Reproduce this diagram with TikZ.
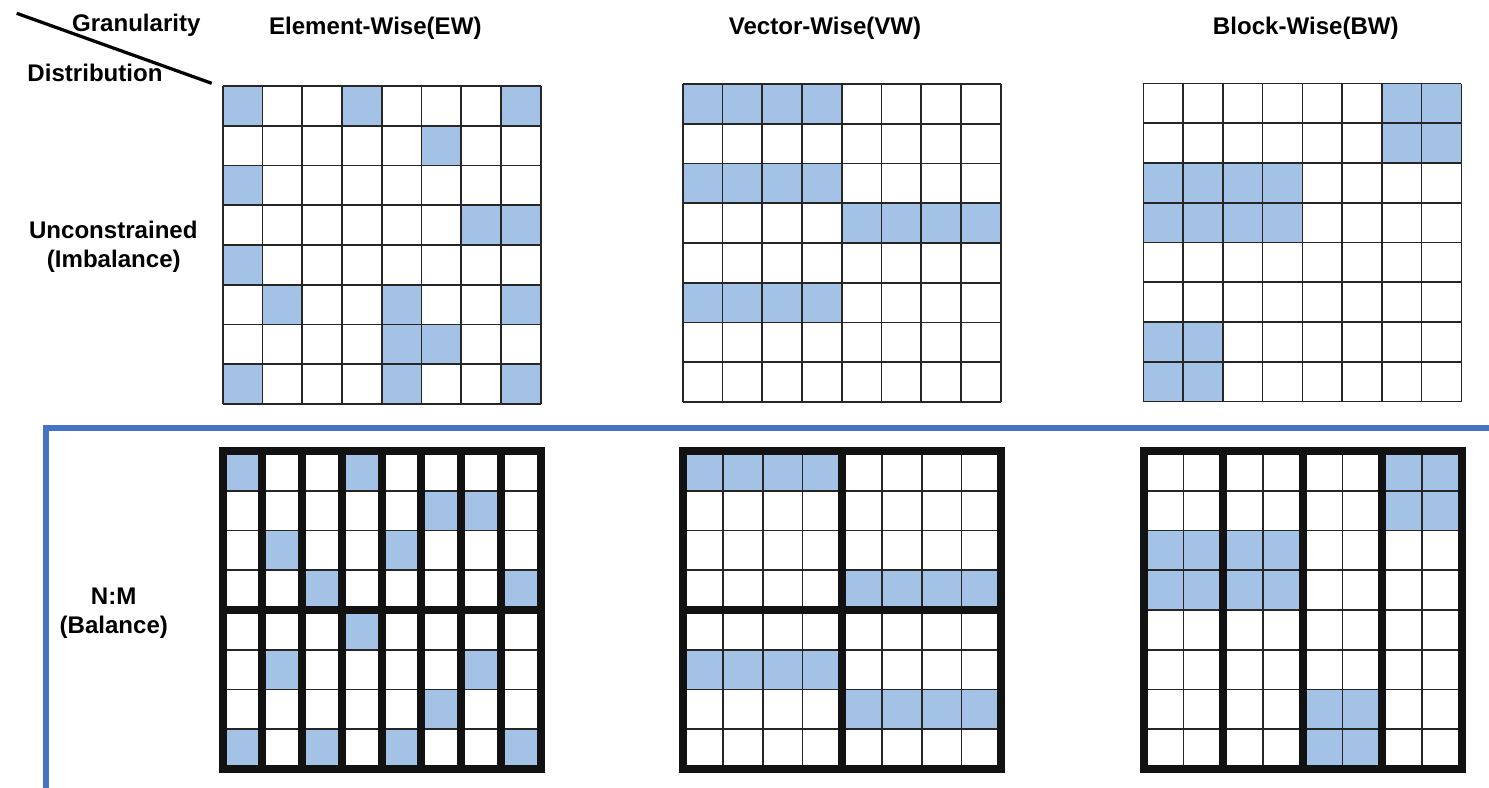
\documentclass[tikz,border=0pt]{standalone}
\usepackage{fontspec}
\setmainfont{Liberation Sans}
\usepackage{xcolor}
\usepackage{tikz}
\definecolor{maskblue}{HTML}{A3C2E6}
\definecolor{splitblue}{HTML}{4472C4}
\definecolor{gridgray}{HTML}{262626}

\tikzset{
  lbl/.style={font=\fontsize{13.7}{16.4}\selectfont\bfseries, inner sep=0pt, anchor=base},
  kept/.style={fill=maskblue},
  cellline/.style={draw=gridgray, line width=0.032cm},
  groupline/.style={draw=black!93, line width=0.16cm, line cap=rect},
}
\def\cellw{39.75}

\begin{document}
\begin{tikzpicture}[x=0.02cm, y=-0.02cm]
  \useasboundingbox (0,0) rectangle (1489,788);

  % corner header
  \coordinate (slashA) at (16.7,13.3);
  \coordinate (slashB) at (211.7,83.3);
  \draw[line width=0.065cm] (slashA) -- (slashB);
  \node[lbl] (gran) at (136.3,31.7) {Granularity};
  \node[lbl] (dist) at (95,81.7) {Distribution};

  % column titles
  \node[lbl] (ew) at (375.3,34.3) {Element-Wise(EW)};
  \node[lbl] (vw) at (825,34.3) {Vector-Wise(VW)};
  \node[lbl] (bw) at (1305.8,34.3) {Block-Wise(BW)};

  % row titles
  \node[lbl] (unc) at (113.3,238.3) {Unconstrained};
  \node[lbl] (imb) at (113.8,267) {(Imbalance)};
  \node[lbl] (nm) at (113.7,604) {N:M};
  \node[lbl] (bal) at (113.8,633) {(Balance)};

  % divider
  \coordinate (divL) at (46,800);
  \coordinate (divC) at (46,428);
  \coordinate (divR) at (1500,428);
  \draw[splitblue, line width=0.13cm] (divL) -- (divC) -- (divR);

  % unconstrained / element-wise
  \begin{scope}[shift={(222.7,86)}]
    \foreach \r/\c in {0/0,0/3,0/7,1/5,2/0,3/6,3/7,4/0,5/1,5/4,5/7,6/4,6/5,7/0,7/4,7/7}
      \fill[kept] (\c*\cellw,\r*\cellw) rectangle ++(\cellw,\cellw);
    \foreach \i in {0,...,8} {
      \draw[cellline] (\i*\cellw,0) -- (\i*\cellw,8*\cellw);
      \draw[cellline] (0,\i*\cellw) -- (8*\cellw,\i*\cellw);
    }
  \end{scope}

  % unconstrained / vector-wise
  \begin{scope}[shift={(682.7,84)}]
    \foreach \r/\c in {0/0,2/0,3/4,5/0}
      \fill[kept] (\c*\cellw,\r*\cellw) rectangle ++(4*\cellw,\cellw);
    \foreach \i in {0,...,8} {
      \draw[cellline] (\i*\cellw,0) -- (\i*\cellw,8*\cellw);
      \draw[cellline] (0,\i*\cellw) -- (8*\cellw,\i*\cellw);
    }
  \end{scope}

  % unconstrained / block-wise
  \begin{scope}[shift={(1143.3,83.5)}]
    \foreach \r/\c/\w in {0/6/2,2/0/4,6/0/2}
      \fill[kept] (\c*\cellw,\r*\cellw) rectangle ++(\w*\cellw,2*\cellw);
    \foreach \i in {0,...,8} {
      \draw[cellline] (\i*\cellw,0) -- (\i*\cellw,8*\cellw);
      \draw[cellline] (0,\i*\cellw) -- (8*\cellw,\i*\cellw);
    }
  \end{scope}

  % N:M / element-wise
  \begin{scope}[shift={(222.5,451)}]
    \foreach \r/\c in {0/0,0/3,1/5,1/6,2/1,2/4,3/2,3/7,4/3,5/1,5/6,6/5,7/0,7/2,7/4,7/7}
      \fill[kept] (\c*\cellw,\r*\cellw) rectangle ++(\cellw,\cellw);
    \foreach \i in {0,...,8}
      \draw[cellline] (0,\i*\cellw) -- (8*\cellw,\i*\cellw);
    \foreach \i in {0,...,8}
      \draw[groupline] (\i*\cellw,0) -- (\i*\cellw,8*\cellw);
    \foreach \i in {0,4,8}
      \draw[groupline] (0,\i*\cellw) -- (8*\cellw,\i*\cellw);
  \end{scope}

  % N:M / vector-wise
  \begin{scope}[shift={(683.3,451)}]
    \foreach \r/\c in {0/0,3/4,5/0,6/4}
      \fill[kept] (\c*\cellw,\r*\cellw) rectangle ++(4*\cellw,\cellw);
    \foreach \i in {0,...,8} {
      \draw[cellline] (\i*\cellw,0) -- (\i*\cellw,8*\cellw);
      \draw[cellline] (0,\i*\cellw) -- (8*\cellw,\i*\cellw);
    }
    \foreach \i in {0,4,8} {
      \draw[groupline] (\i*\cellw,0) -- (\i*\cellw,8*\cellw);
      \draw[groupline] (0,\i*\cellw) -- (8*\cellw,\i*\cellw);
    }
  \end{scope}

  % N:M / block-wise
  \begin{scope}[shift={(1143.8,451)}]
    \foreach \r/\c/\w in {0/6/2,2/0/4,6/4/2}
      \fill[kept] (\c*\cellw,\r*\cellw) rectangle ++(\w*\cellw,2*\cellw);
    \foreach \i in {0,...,8} {
      \draw[cellline] (\i*\cellw,0) -- (\i*\cellw,8*\cellw);
      \draw[cellline] (0,\i*\cellw) -- (8*\cellw,\i*\cellw);
    }
    \foreach \i in {0,2,4,6,8}
      \draw[groupline] (\i*\cellw,0) -- (\i*\cellw,8*\cellw);
    \foreach \i in {0,8}
      \draw[groupline] (0,\i*\cellw) -- (8*\cellw,\i*\cellw);
  \end{scope}
\end{tikzpicture}
\end{document}
